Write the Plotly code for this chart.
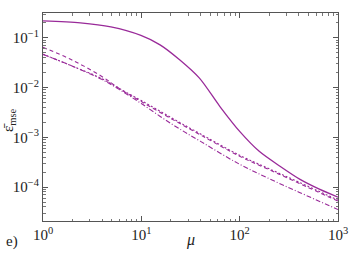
import plotly.graph_objects as go

mu_solid = [1, 2.4, 4.9, 9.9, 15.5, 24.5, 39, 63, 100, 158, 257, 407, 646, 1000]
eps_solid = [0.219, 0.2, 0.166, 0.112, 0.0724, 0.0363, 0.0155, 0.00417, 0.00132, 0.000525, 0.000263, 0.000145, 0.0000912, 0.0000631]

mu_other = [1, 2, 4, 6, 10, 20, 40, 100, 200, 400, 1000]
eps_dashed = [0.0646, 0.0355, 0.0166, 0.00955, 0.00525, 0.0024, 0.00112, 0.000417, 0.000224, 0.00012, 0.0000525]
eps_dotted = [0.0468, 0.0269, 0.0151, 0.00955, 0.0055, 0.00251, 0.00117, 0.000437, 0.000234, 0.000126, 0.000055]
eps_dashdot = [0.0468, 0.0269, 0.0145, 0.00912, 0.00479, 0.0019, 0.000832, 0.000288, 0.000148, 0.0000794, 0.0000355]

x_ticks = [1, 10, 100, 1000]
x_labels = ["10<sup>0</sup>", "10<sup>1</sup>", "10<sup>2</sup>", "10<sup>3</sup>"]
y_ticks = [1e-1, 1e-2, 1e-3, 1e-4]
y_labels = ["10<sup>−1</sup>", "10<sup>−2</sup>", "10<sup>−3</sup>", "10<sup>−4</sup>"]

col = "#992a99"
fig = go.Figure()
fig.add_trace(go.Scatter(x=mu_solid, y=eps_solid, mode="lines", line=dict(color=col, width=1.3, shape="spline", smoothing=0.8), showlegend=False))
fig.add_trace(go.Scatter(x=mu_other, y=eps_dashed, mode="lines", line=dict(color=col, width=1.1, dash="4px,3px", shape="spline"), showlegend=False))
fig.add_trace(go.Scatter(x=mu_other, y=eps_dotted, mode="lines", line=dict(color=col, width=1.1, dash="2px,2px", shape="spline"), showlegend=False))
fig.add_trace(go.Scatter(x=mu_other, y=eps_dashdot, mode="lines", line=dict(color=col, width=1.1, dash="5px,2px,1px,2px", shape="spline"), showlegend=False))

ff = "'Liberation Serif', 'Times New Roman', serif"
font = dict(family=ff, size=15, color="#222")
axis_common = dict(type="log", showgrid=False, zeroline=False, showline=True, linecolor="#555", linewidth=1,
                   mirror="allticks", ticks="inside", ticklen=5, tickcolor="#555", automargin=False,
                   minor=dict(ticks="inside", ticklen=2.5, tickcolor="#777", dtick="D1", showgrid=False),
                   tickfont=font)
fig.update_xaxes(range=[0, 3], tickvals=x_ticks, ticktext=x_labels, **axis_common)
fig.update_yaxes(range=[-4.68, -0.5], tickvals=y_ticks, ticktext=y_labels, **axis_common)
fig.add_annotation(text="<i>μ</i>", x=0.5, y=0, xref="paper", yref="paper", xanchor="center", yanchor="middle",
                   xshift=0, yshift=-19, showarrow=False, font=dict(family=ff, size=16, color="#222"))
fig.add_annotation(text="ε̄<sub>mse</sub>", x=0, y=0.5, xref="paper", yref="paper", xanchor="center", yanchor="middle",
                   xshift=-34, yshift=-3, textangle=-90, showarrow=False, font=dict(family=ff, size=15, color="#222"))
fig.add_annotation(text="e)", x=0.0, y=0.0, xref="paper", yref="paper", xanchor="center", yanchor="middle",
                   xshift=-31, yshift=-20, showarrow=False, font=dict(family=ff, size=15, color="#222"))
fig.update_layout(width=361, height=253, autosize=False, margin=dict(l=43, r=23, t=13, b=32, autoexpand=False),
                  plot_bgcolor="white", paper_bgcolor="white", font=font)
fig.write_html("out.html", config={"displayModeBar": False}, post_script="document.body.style.margin='0px';")
